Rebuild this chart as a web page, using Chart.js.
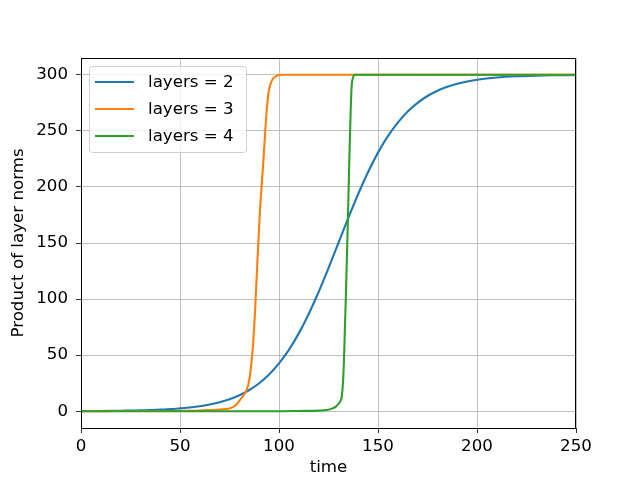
<!DOCTYPE html>
<html>
<head>
<meta charset="utf-8">
<script src="https://cdn.jsdelivr.net/npm/chart.js@4/dist/chart.umd.min.js"></script>
<style>
  html, body { margin: 0; padding: 0; background: #fff; }
  #wrap { width: 640px; height: 480px; }
</style>
</head>
<body>
<div id="wrap"><canvas id="chart" width="640" height="480"></canvas></div>
<script>
// values
const blueTime = [0, 5, 10, 15, 20, 25, 30, 35, 40, 45, 50, 55, 60, 65, 70, 75, 80, 85, 90, 95, 100, 105, 110, 115, 120, 125, 130, 135, 140, 145, 150, 155, 160, 165, 170, 175, 180, 185, 190, 195, 200, 210, 220, 230, 240, 250];
const blueNorm = [0.1, 0.2, 0.2, 0.3, 0.4, 0.6, 0.7, 1.0, 1.4, 1.8, 2.5, 3.3, 4.4, 6.0, 8.0, 10.7, 14.2, 18.9, 24.9, 32.7, 42.6, 54.7, 69.4, 86.7, 106.3, 127.6, 150, 172.4, 193.7, 213.3, 230.6, 245.3, 257.4, 267.3, 275, 281.1, 285.8, 289.3, 292, 294, 295.6, 297.6, 298.7, 299.3, 299.6, 299.8];

const orangeTime = [0, 20, 40, 50, 60, 65, 70, 75, 78, 80.3, 82, 83.7, 85, 86.2, 87, 87.9, 89.1, 90.4, 92.1, 93.4, 94.6, 96.3, 98.8, 102, 110, 150, 200, 250];
const orangeNorm = [0, 0.1, 0.2, 0.3, 0.6, 1, 1.5, 2.4, 5, 10, 14, 19, 28, 45, 62, 89, 134, 179, 223, 259, 283, 294.6, 299, 300, 300, 300, 300, 300];

const greenTime = [0, 50, 100, 110, 120, 124, 127, 129, 131, 131.6, 132.3, 132.8, 133.3, 133.8, 134.7, 135.5, 136.2, 136.7, 137.3, 138.4, 140, 150, 200, 250];
const greenNorm = [0, 0, 0, 0.2, 0.5, 1, 2.5, 4.5, 9, 12, 25, 45, 75, 104, 164, 223, 268, 290, 297, 300, 300, 300, 300, 300];

const seriesLabels = ['layers = 2', 'layers = 3', 'layers = 4'];
const xTicks = [0, 50, 100, 150, 200, 250];
const yTicks = [0, 50, 100, 150, 200, 250, 300];

const FONT = 'DejaVu Sans';
const FSIZE = 16.67;
const colors = ['#1f77b4', '#ff7f0e', '#2ca02c'];

const toPoints = (xs, ys) => xs.map((x, i) => ({ x: x, y: ys[i] }));

// frame around the plot area (matplotlib spines)
const framePlugin = {
    id: 'frame',
    afterDatasetsDraw(chart) {
        const { ctx, chartArea: a } = chart;
        ctx.save();
        ctx.strokeStyle = '#000';
        ctx.lineWidth = 1;
        ctx.strokeRect(a.left + 0.5, a.top + 0.5, a.right - a.left - 1, a.bottom - a.top);
        ctx.restore();
    }
};

// legend box in the upper left corner of the plot
const legendPlugin = {
    id: 'boxLegend',
    afterDraw(chart) {
        const { ctx, chartArea: a } = chart;
        const x0 = a.left + 8.5, y0 = a.top + 8.5, w = 157, h = 86;
        ctx.save();
        ctx.fillStyle = 'rgba(255,255,255,0.8)';
        ctx.strokeStyle = '#d0d0d0';
        ctx.lineWidth = 1;
        ctx.beginPath();
        ctx.roundRect(x0, y0, w, h, 3);
        ctx.fill();
        ctx.stroke();
        ctx.font = FSIZE + 'px "' + FONT + '"';
        ctx.textBaseline = 'middle';
        ctx.fillStyle = '#000';
        chart.data.datasets.forEach((ds, i) => {
            const y = a.top + 24 + i * 27;
            ctx.strokeStyle = ds.borderColor;
            ctx.lineWidth = 2;
            ctx.beginPath();
            ctx.moveTo(a.left + 14, y);
            ctx.lineTo(a.left + 53, y);
            ctx.stroke();
            ctx.fillText(ds.label, a.left + 67, y + 1);
        });
        ctx.restore();
    }
};

const ctx = document.getElementById('chart').getContext('2d');
new Chart(ctx, {
    type: 'line',
    data: {
        datasets: [
            { label: seriesLabels[0], data: toPoints(blueTime, blueNorm), borderColor: colors[0], order: 3 },
            { label: seriesLabels[1], data: toPoints(orangeTime, orangeNorm), borderColor: colors[1], order: 2 },
            { label: seriesLabels[2], data: toPoints(greenTime, greenNorm), borderColor: colors[2], order: 1 }
        ].map(ds => Object.assign(ds, { borderWidth: 2.1, pointRadius: 0, cubicInterpolationMode: 'monotone', fill: false }))
    },
    options: {
        responsive: false,
        animation: false,
        layout: { padding: { left: 0, top: 58, right: 64, bottom: 0 } },
        plugins: { legend: { display: false }, tooltip: { enabled: false } },
        scales: {
            x: {
                type: 'linear',
                min: 0,
                max: 250,
                afterBuildTicks: s => { s.ticks = xTicks.map(v => ({ value: v })); },
                afterFit: s => { s.height = 52; },
                grid: { color: '#b0b0b0', lineWidth: 0.8, tickColor: '#000', tickLength: 5 },
                border: { display: false },
                ticks: { color: '#000', font: { family: FONT, size: FSIZE }, padding: 4, maxRotation: 0 },
                title: { display: true, text: 'time', color: '#000', font: { family: FONT, size: FSIZE }, padding: { top: 0, bottom: 2 } }
            },
            y: {
                type: 'linear',
                min: -15,
                max: 315,
                afterBuildTicks: s => { s.ticks = yTicks.map(v => ({ value: v })); },
                afterFit: s => { s.width = 81; },
                grid: { color: '#b0b0b0', lineWidth: 0.8, tickColor: '#000', tickLength: 5 },
                border: { display: false },
                ticks: { color: '#000', font: { family: FONT, size: FSIZE }, padding: 8 },
                title: { display: true, text: 'Product of layer norms', color: '#000', font: { family: FONT, size: FSIZE }, padding: { top: 9, bottom: 0 } }
            }
        }
    },
    plugins: [framePlugin, legendPlugin]
});
</script>
</body>
</html>
